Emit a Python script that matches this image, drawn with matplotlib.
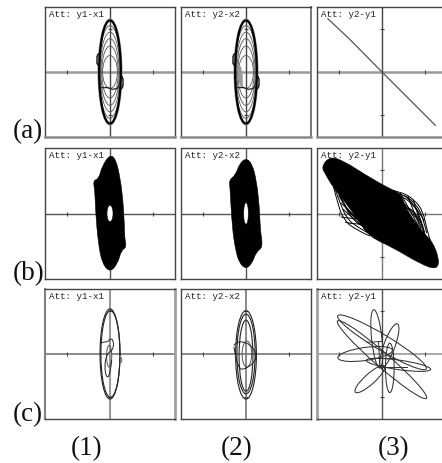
import matplotlib
matplotlib.use("Agg")
import matplotlib.pyplot as plt
from matplotlib.patches import Ellipse, PathPatch
from matplotlib.path import Path

W, H = 442, 463

panel_titles = [["Att: y1-x1", "Att: y2-x2", "Att: y2-y1"]] * 3
row_labels = ["(a)", "(b)", "(c)"]
col_labels = ["(1)", "(2)", "(3)"]
ticks = [-1, 1]

# rings: half width, half height
a_ring_w = [0.25, 0.23, 0.21, 0.19, 0.17]
a_ring_h = [1.07, 0.92, 0.77, 0.60, 0.38]
a_outer = (0.25, 1.19)
a3_x = [-1.25, -0.75, 0.0, 1.23]
a3_y = [1.23, 0.76, 0.0, -1.23]
a_bump_left_x = [-0.27, -0.30, -0.30, -0.27]
a_bump_left_y = [0.42, 0.36, 0.20, 0.15]
a_bump_right_x = [0.27, 0.30, 0.30, 0.27]
a_bump_right_y = [-0.10, -0.16, -0.32, -0.38]
a_step_x = [-0.2, -0.05, 0.05, 0.17, 0.2]
a_step_y = [-0.36, -0.36, -0.40, -0.38, -0.32]
a2_patch_x = [-0.2, -0.12, -0.08, -0.08, -0.12, -0.18]
a2_patch_y = [0.15, 0.15, -0.1, -0.35, -0.36, -0.1]

b1_x = [0, 0.13, 0.23, 0.30, 0.33, 0.34, 0.38, 0.26, 0.18, 0, -0.18, -0.27, -0.33, -0.35, -0.39, -0.26, -0.18]
b1_y = [1.36, 1.26, 0.85, 0.31, -0.23, -0.58, -0.78, -0.85, -1.15, -1.36, -1.15, -0.69, 0, 0.54, 0.76, 0.80, 1.1]
b2_x = [0, 0.14, 0.24, 0.31, 0.33, 0.39, 0.24, 0.14, 0, -0.15, -0.24, -0.32, -0.37, -0.39, -0.24, -0.15]
b2_y = [1.28, 1.15, 0.77, 0.15, -0.38, -0.78, -0.88, -1.15, -1.28, -1.15, -0.85, -0.31, 0.62, 0.77, 0.89, 1.15]
b1_hole = (0.07, 0.19)
b2_hole = (0.055, 0.25)
b3_x = [-1.4, -1.2, -0.86, -0.4, 0.18, 0.44, 0.56, 1.0, 1.16, 1.32, 1.27, 0.88, 0.26, -0.28, -0.52, -0.86, -1.14, -1.3]
b3_y = [1.08, 1.32, 1.2, 0.9, 0.57, 0.46, 0.08, -0.5, -0.64, -1.05, -1.3, -1.16, -0.79, -0.54, -0.2, 0.28, 0.62, 0.9]
# mesh strands in the two open lenses of panel b3
b3_mesh = [
    ([0.15, 0.45, 0.76, 0.95, 1.03, 1.11], [0.55, 0.5, 0.31, 0.04, -0.35, -0.62]),
    ([0.25, 0.55, 0.8, 0.95, 1.03], [0.5, 0.42, 0.2, -0.1, -0.45]),
    ([0.3, 0.5, 0.72, 0.88, 0.98], [0.45, 0.38, 0.2, -0.05, -0.45]),
    ([0.34, 0.48, 0.68, 0.85, 1.0], [0.42, 0.25, 0.0, -0.15, -0.5]),
    ([0.42, 0.75, 0.95], [0.3, 0.05, -0.3]),
    ([0.42, 0.6, 0.85], [0.48, 0.15, -0.3]),
    ([0.6, 0.7, 0.9], [0.4, 0.1, -0.35]),
    ([0.5, 0.72, 0.98], [0.42, 0.28, -0.18]),
    ([0.72, 0.8, 0.98], [0.32, 0.02, -0.42]),
    ([0.45, 0.7, 0.92], [0.12, 0.2, -0.22]),
    ([-1.12, -1.0, -0.89, -0.66, -0.28], [0.62, 0.15, -0.12, -0.35, -0.52]),
    ([-1.08, -0.95, -0.82, -0.6, -0.3], [0.55, 0.2, -0.1, -0.3, -0.46]),
    ([-1.05, -0.92, -0.75, -0.48, -0.25], [0.55, 0.32, -0.05, -0.3, -0.4]),
    ([-1.0, -0.85, -0.65, -0.35], [0.5, 0.15, -0.1, -0.3]),
    ([-1.0, -0.8, -0.45], [0.42, 0.03, -0.2]),
    ([-0.95, -0.68, -0.4], [0.25, -0.02, -0.3]),
    ([-0.9, -0.55, -0.35], [0.1, -0.22, -0.36]),
    ([-0.95, -0.75, -0.48], [-0.08, -0.12, -0.12]),
    ([-0.85, -0.62, -0.42], [-0.2, -0.26, -0.24]),
    ([-0.72, -0.55, -0.4], [0.25, 0.0, -0.38]),
]

c1_rings = [(0.0, 0.0, 0.23, 1.04), (0.01, 0.0, 0.22, 1.0)]
c1_inner = (-0.02, -0.05, 0.06, 0.25)
c1_blob_x = [-0.23, -0.15, -0.04, 0.0, 0.08, 0.08, 0.0, -0.08, -0.13, -0.08, 0.0, 0.04]
c1_blob_y = [0.25, 0.28, 0.28, 0.36, 0.32, 0.13, 0.05, -0.02, -0.29, -0.56, -0.48, -0.14]
c1_bump_x = [0.23, 0.27, 0.27, 0.23]
c1_bump_y = [-0.05, -0.1, -0.18, -0.22]
c2_rings = [(0.0, -0.02, 0.24, 1.02), (0.0, -0.04, 0.16, 0.82), (0.0, 0.0, 0.21, 0.92)]
c2_inner = (0.02, 0.0, 0.11, 0.3)
c2_blob_x = [-0.28, -0.22, -0.02, 0.14, 0.25, 0.18, -0.09, -0.18, -0.25, -0.28]
c2_blob_y = [0.2, 0.28, 0.28, 0.17, -0.02, -0.22, -0.38, -0.29, -0.02, 0.17]
# petals of panel c3: centre x, centre y, length, width, angle
c3_petals = [
    (-0.12, 0.35, 1.35, 0.24, 96),
    (0.17, 0.19, 1.08, 0.26, 70),
    (0.18, -0.32, 1.14, 0.2, 90),
    (-0.28, -0.58, 0.9, 0.24, 42),
    (-0.39, 0.0, 1.27, 0.3, 8),
    (0.38, -0.25, 1.5, 0.22, -8),
    (0.0, -0.13, 2.72, 0.33, -41),
    (0.0, 0.27, 2.38, 0.36, -31),
]
c3_sticks = [
    ([-0.35, 0.0], [0.27, 0.29]),
    ([-0.08, -0.05], [0.29, -0.32]),
    ([0.0, 0.0], [0.52, -0.32]),
    ([0.0, 0.57], [-0.3, -0.3]),
    ([-0.3, 0.27], [-0.1, -0.1]),
]


def px_axes(fig, left, cy):
    # every panel is 3 units (130 px) wide and high
    return fig.add_axes([left / W, 1 - (cy + 65) / H, 130 / W, 130 / H])


def base(ax, title, h_style, v_style, edges):
    ax.set_xlim(-1.5, 1.5)
    ax.set_ylim(-1.5, 1.5)
    ax.set_xticks([])
    ax.set_yticks([])
    for side in edges:
        ax.spines[side].set_color(edges[side][0])
        ax.spines[side].set_linewidth(edges[side][1])
    ax.axhline(0, color=h_style[0], lw=h_style[1], zorder=1)
    ax.axvline(0, color=v_style[0], lw=v_style[1], zorder=1)
    ax.plot(ticks, [0, 0], "|", color="#444444", ms=3, mew=0.8, zorder=1)
    ax.plot([0, 0], ticks, "_", color="#444444", ms=3, mew=0.8, zorder=1)
    ax.text(0.03, 0.98, title, transform=ax.transAxes, family="Liberation Mono", fontsize=6.6,
            va="top", ha="left", color="#222222", zorder=6)


def ell(ax, cx, cy, hw, hh, angle=0, color="#333333", lw=0.7, fc="none", z=3):
    ax.add_patch(Ellipse((cx, cy), 2 * hw, 2 * hh, angle=angle, fc=fc, ec=color, lw=lw, zorder=z))


def rounded_path(xs, ys, closed=False):
    # read points act as quadratic control points, matplotlib draws the curve
    pts = list(zip(xs, ys))
    if closed:
        start = ((pts[-1][0] + pts[0][0]) / 2, (pts[-1][1] + pts[0][1]) / 2)
        verts, codes = [start], [Path.MOVETO]
        for i, p in enumerate(pts):
            q = pts[(i + 1) % len(pts)]
            verts += [p, ((p[0] + q[0]) / 2, (p[1] + q[1]) / 2)]
            codes += [Path.CURVE3, Path.CURVE3]
        return Path(verts, codes)
    verts, codes = [pts[0]], [Path.MOVETO]
    for i in range(1, len(pts) - 1):
        p, q = pts[i], pts[i + 1]
        end = q if i == len(pts) - 2 else ((p[0] + q[0]) / 2, (p[1] + q[1]) / 2)
        verts += [p, end]
        codes += [Path.CURVE3, Path.CURVE3]
    if len(pts) == 2:
        verts.append(pts[1])
        codes.append(Path.LINETO)
    return Path(verts, codes)


def curve(ax, xs, ys, color="#222222", lw=0.7, z=4):
    ax.add_patch(PathPatch(rounded_path(xs, ys), fc="none", ec=color, lw=lw, zorder=z))


def blob(ax, xs, ys, color="black", z=3):
    ax.add_patch(PathPatch(rounded_path(xs, ys, closed=True), fc=color, ec=color, lw=0.4, zorder=z))


def rings_a(ax):
    for w, h in zip(a_ring_w, a_ring_h):
        ell(ax, 0, 0, w, h, color="#555555", lw=0.6)
    ell(ax, 0, 0, a_outer[0] + 0.025, a_outer[1] + 0.03, color="#999999", lw=0.9)
    ell(ax, 0, 0, a_outer[0], a_outer[1], color="black", lw=1.6)
    ax.plot(a_bump_left_x, a_bump_left_y, color="#111111", lw=1.0, zorder=4)
    ax.plot(a_bump_right_x, a_bump_right_y, color="#111111", lw=1.0, zorder=4)
    ax.plot(a_step_x, a_step_y, color="#222222", lw=0.9, zorder=4)


def solid(ax, xs, ys, hole):
    blob(ax, xs, ys)
    ell(ax, 0, 0, hole[0], hole[1], color="black", lw=0.4, fc="white", z=4)


def rings_c(ax, rings, inner, bx, by):
    for cx, cy, w, h in rings:
        ell(ax, cx, cy, w, h, color="#222222", lw=0.8)
    ell(ax, inner[0], inner[1], inner[2], inner[3], color="#555555", lw=0.7)
    curve(ax, bx, by)


plt.rcParams["font.family"] = "Liberation Serif"
fig = plt.figure(figsize=(W / 100, H / 100), dpi=100)

col_left = [45, 181, 317]
row_cy = [72, 213.5, 354]

dark = ("#444444", 1.0)
gray = ("#8a8a8a", 1.8)
soft = ("#a0a0a0", 2.0)

# row a
for c in range(3):
    edges = {"left": dark, "top": dark, "right": dark if c == 0 else ("#777777", 1.4), "bottom": gray}
    ax = px_axes(fig, col_left[c], row_cy[0])
    base(ax, panel_titles[0][c], ("#999999", 1.8), ("#444444", 1.0), edges)
    if c < 2:
        rings_a(ax)
    if c == 1:
        blob(ax, a2_patch_x, a2_patch_y, color="#999999")
    if c == 2:
        ax.plot(a3_x, a3_y, color="#555555", lw=0.9, zorder=3)

# row b
b_edges = {"left": dark, "top": dark, "right": dark, "bottom": dark}
ax = px_axes(fig, col_left[0], row_cy[1])
base(ax, panel_titles[1][0], ("#555555", 1.0), ("#555555", 1.0), b_edges)
solid(ax, b1_x, b1_y, b1_hole)
ax = px_axes(fig, col_left[1], row_cy[1])
base(ax, panel_titles[1][1], ("#555555", 1.0), ("#555555", 1.0), b_edges)
solid(ax, b2_x, b2_y, b2_hole)
ax = px_axes(fig, col_left[2], row_cy[1])
base(ax, panel_titles[1][2], ("#777777", 1.0), ("#777777", 1.0), b_edges)
blob(ax, b3_x, b3_y)
for mx, my in b3_mesh:
    curve(ax, mx, my, color="black", lw=0.7, z=3)

# row c
ax = px_axes(fig, col_left[0], row_cy[2])
base(ax, panel_titles[2][0], ("#777777", 1.2), ("#999999", 1.5),
     {"left": ("#808080", 1.5), "top": dark, "right": soft, "bottom": dark})
rings_c(ax, c1_rings, c1_inner, c1_blob_x, c1_blob_y)
ax.plot(c1_bump_x, c1_bump_y, color="#777777", lw=0.8, zorder=3)
ax = px_axes(fig, col_left[1], row_cy[2])
base(ax, panel_titles[2][1], ("#777777", 1.2), ("#777777", 1.2), b_edges)
rings_c(ax, c2_rings, c2_inner, c2_blob_x, c2_blob_y)
ax = px_axes(fig, col_left[2], row_cy[2])
base(ax, panel_titles[2][2], ("#999999", 1.2), ("#555555", 1.0),
     {"left": soft, "top": dark, "right": dark, "bottom": dark})
for cx, cy, ln, wd, ang in c3_petals:
    ell(ax, cx, cy, ln / 2, wd / 2, angle=ang, color="#333333", lw=0.75)
for sx, sy in c3_sticks:
    ax.plot(sx, sy, color="#333333", lw=0.7, zorder=3)

for label, y in zip(row_labels, [138.5, 280, 421]):
    fig.text(13 / W, 1 - y / H, label, fontsize=19.5, ha="left", va="baseline", color="#111111")
for label, x in zip(col_labels, [87, 237, 394]):
    fig.text(x / W, 1 - 455 / H, label, fontsize=19.5, ha="center", va="baseline", color="#111111")

fig.savefig("out.png", dpi=100)
plt.close(fig)
